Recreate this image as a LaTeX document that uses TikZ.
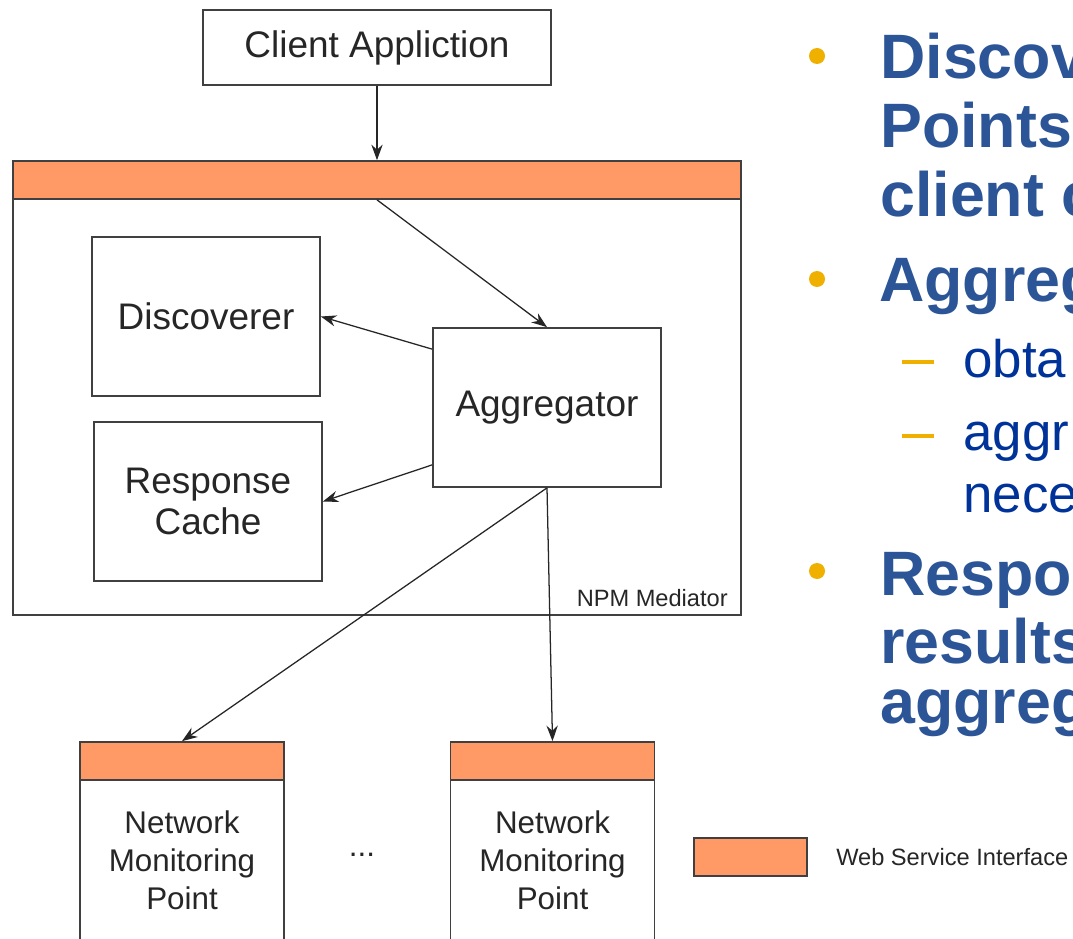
\documentclass[tikz,border=0pt]{standalone}
\usepackage{fontspec}
\setmainfont{Liberation Sans}
\usepackage{tikz}
\usetikzlibrary{positioning, calc, arrows.meta}

\definecolor{wsorange}{RGB}{255,153,102}
\definecolor{titleblue}{RGB}{43,85,151}
\definecolor{subblue}{RGB}{0,51,153}
\definecolor{bulletgold}{RGB}{240,176,0}

\tikzset{
  box/.style={draw=black!75, line width=1.2pt, fill=white, inner sep=0pt,
    minimum width=5.7cm, minimum height=3.975cm, align=center, text=black!85,
    font=\fontsize{26.3}{29.8}\selectfont},
  wsbar/.style={draw=black!75, line width=1.2pt, fill=wsorange, inner sep=0pt,
    minimum height=0.95cm},
  nmpbox/.style={box, minimum width=5.1cm, minimum height=5.9cm,
    font=\fontsize{22.3}{26.9}\selectfont},
  small/.style={text=black!85, inner sep=0pt, font=\fontsize{16.8}{20}\selectfont},
  arr/.style={-{Stealth[length=11pt, width=8pt]}, line width=0.9pt, black!85},
  bigline/.style={anchor=base west, inner sep=0pt, text=titleblue,
    font=\fontsize{44.6}{50}\selectfont\bfseries},
  subline/.style={anchor=base west, inner sep=0pt, text=subblue,
    font=\fontsize{37.6}{44}\selectfont},
  dot/.style={circle, fill=bulletgold, inner sep=0pt, minimum size=16*0.025cm}
}

\begin{document}
\begin{tikzpicture}[x=0.025cm, y=-0.025cm]
  \clip (0,0) rectangle (1073,939);
  \fill[white] (0,0) rectangle (1073,939);

  % diagram
  \node[box, minimum width=8.7cm, minimum height=1.875cm] (client) at (377, 47.5) {Client Appliction};

  \node[box, minimum width=18.2cm, minimum height=11.35cm] (mediator) at (377, 388) {};
  \node[wsbar, minimum width=18.2cm] (medbar) at (377, 180) {};
  \node[small, anchor=base east] (medlabel) at (728, 606) {NPM Mediator};

  \node[box] (disc) at (206, 316.5) {Discoverer};
  \node[box] (cache) at (208, 501.5) {Response\\Cache};
  \node[box] (aggr) at (547, 407.5) {Aggregator};

  \node[nmpbox] (nmpa) at (182, 860) {Network\\Monitoring\\Point};
  \node[wsbar, minimum width=5.1cm] (nmpabar) at (182, 761) {};
  \node[nmpbox] (nmpb) at (552.5, 860) {Network\\Monitoring\\Point};
  \node[wsbar, minimum width=5.1cm] (nmpbbar) at (552.5, 761) {};
  \node[text=black!85, font=\fontsize{22.3}{26}\selectfont, anchor=base] (dots) at (362, 856) {...};

  \draw [arr] (client) -- (medbar);
  \draw [arr] (medbar.south) -- (aggr.north);
  \draw [arr] ($(aggr.north west)+(0,22)$) -- (disc.east);
  \draw [arr] ($(aggr.south west)+(0,-23)$) -- (cache.east);
  \draw [arr] (aggr.south) -- (nmpabar.north);
  \draw [arr] (aggr.south) -- (nmpbbar.north);

  % legend
  \node[wsbar, minimum width=2.825cm] (legend) at (750.5, 857) {};
  \node[small, anchor=west] (legendtext) at (836, 857) {Web Service Interface};

  % bullets
  \node[dot] (b1) at (817, 56) {};
  \node[dot] (b2) at (817, 279) {};
  \node[dot] (b3) at (817, 571) {};
  \draw[bulletgold, line width=3.5pt] (902, 362) -- (934, 362);
  \draw[bulletgold, line width=3.5pt] (902, 436) -- (934, 436);

  \node[bigline] (l1) at (880, 79) {Discov};
  \node[bigline] (l2) at (880, 148) {Points};
  \node[bigline] (l3) at (880, 217) {client c};
  \node[bigline] (l4) at (879, 302) {Aggreg};
  \node[subline] (l5) at (963, 377) {obta};
  \node[subline] (l6) at (963, 450) {aggr};
  \node[subline] (l7) at (963, 512) {nece};
  \node[bigline] (l8) at (880, 595) {Respo};
  \node[bigline] (l9) at (880, 663) {results};
  \node[bigline] (l10) at (880, 723) {aggreg};
\end{tikzpicture}
\end{document}
